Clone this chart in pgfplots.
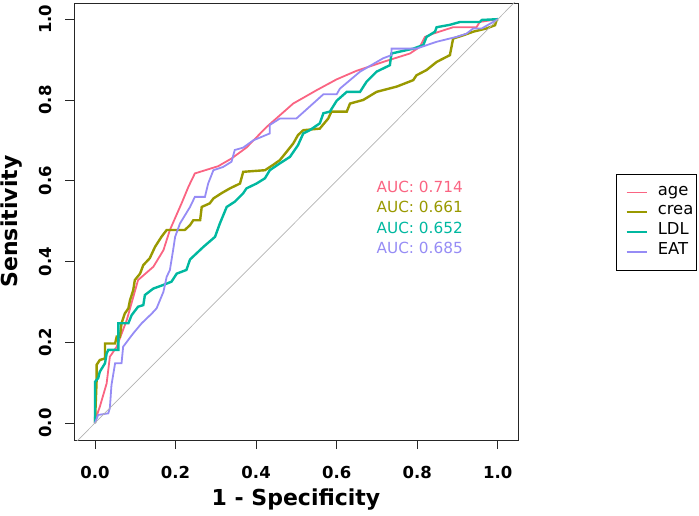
\documentclass[border=0pt]{standalone}
\usepackage{fontspec}
\setmainfont{DejaVu Sans}
\usepackage{pgfplots}
\pgfplotsset{compat=1.18}
\definecolor{cage}{RGB}{250,100,130}
\definecolor{ccrea}{RGB}{153,153,0}
\definecolor{cldl}{RGB}{0,184,160}
\definecolor{ceat}{RGB}{150,140,245}
\begin{document}
\begin{tikzpicture}
\path[use as bounding box] (0,0) rectangle (699pt,515pt);
\begin{axis}[
  at={(74pt,75pt)}, anchor=south west,
  scale only axis, width=444pt, height=437pt,
  xmin=-0.052, xmax=1.05, ymin=-0.042, ymax=1.04,
  xtick={0,0.2,0.4,0.6,0.8,1}, ytick={0,0.2,0.4,0.6,0.8,1},
  tick align=outside, major tick length=9pt,
  xtick pos=bottom, ytick pos=left,
  axis line style={black!85, line width=0.8pt},
  every tick/.style={black!85, line width=0.8pt},
  /pgf/number format/assume math mode=true,
  /pgf/number format/.cd, fixed, fixed zerofill, precision=1, /pgfplots/.cd,
  tick label style={font=\bfseries\fontsize{16.5}{16.5}\selectfont},
  xticklabel style={yshift=-14pt},
  yticklabel style={xshift=-9.5pt, rotate=90, anchor=south},
  xlabel={1 - Specificity}, ylabel={Sensitivity},
  label style={font=\bfseries\fontsize{22}{22}\selectfont},
  xlabel style={at={(axis description cs:0.5,-0.137)}, anchor=center},
  ylabel style={at={(axis description cs:-0.14,0.5)}, anchor=center, rotate=0},
  legend style={at={(1.221,0.609)}, anchor=north west, draw=black, line width=0.6pt,
    font=\fontsize{16.4}{19.7}\selectfont, inner xsep=3pt, inner ysep=8.5pt,
    row sep=0pt, column sep=4pt,
    nodes={inner sep=0pt, text height=12.5pt, text depth=7.2pt},
    legend cell align=left},
  legend image code/.code={\path (0pt,0pt); \draw[#1] (6pt,0pt) -- (26pt,0pt); \path (32pt,0pt);},
]
\addplot[cage, line width=1.8pt] coordinates {
(0,0) (0.005,0.02) (0.012,0.04) (0.029,0.098) (0.037,0.164) (0.054,0.189) (0.079,0.255)
(0.107,0.354) (0.145,0.387) (0.17,0.428) (0.186,0.478) (0.215,0.544) (0.232,0.585)
(0.248,0.618) (0.306,0.636) (0.339,0.655) (0.376,0.682) (0.426,0.733) (0.492,0.791)
(0.55,0.824) (0.60,0.851) (0.649,0.872) (0.715,0.894) (0.782,0.915) (0.806,0.931)
(0.819,0.956) (0.839,0.964) (0.889,0.98) (0.947,0.98) (0.955,0.993) (1,1)};
\addlegendentry{age}
\addplot[ccrea, line width=2.4pt] coordinates {
(0,0) (0.004,0.102) (0.004,0.144) (0.012,0.156) (0.025,0.16) (0.025,0.197) (0.05,0.197)
(0.054,0.214) (0.062,0.214) (0.066,0.247) (0.074,0.271) (0.083,0.284) (0.087,0.304)
(0.095,0.329) (0.099,0.354) (0.112,0.37) (0.12,0.391) (0.136,0.408) (0.149,0.436)
(0.165,0.461) (0.178,0.478) (0.223,0.478) (0.236,0.49) (0.244,0.502) (0.261,0.502)
(0.265,0.535) (0.285,0.544) (0.294,0.556) (0.314,0.569) (0.335,0.581) (0.36,0.593)
(0.368,0.622) (0.422,0.626) (0.442,0.639) (0.459,0.651) (0.476,0.672) (0.492,0.692)
(0.504,0.713) (0.517,0.725) (0.558,0.729) (0.579,0.754) (0.587,0.771) (0.625,0.771)
(0.633,0.791) (0.666,0.80) (0.699,0.82) (0.749,0.833) (0.79,0.849) (0.798,0.861)
(0.823,0.874) (0.848,0.894) (0.881,0.911) (0.889,0.952) (0.914,0.96) (0.939,0.969)
(0.972,0.977) (0.993,0.985) (0.997,0.998) (1,1)};
\addlegendentry{crea}
\addplot[cldl, line width=2.4pt] coordinates {
(0,0) (0,0.102) (0.008,0.111) (0.012,0.127) (0.025,0.148) (0.029,0.172) (0.033,0.181)
(0.058,0.181) (0.058,0.247) (0.083,0.247) (0.091,0.267) (0.107,0.288) (0.12,0.292)
(0.124,0.317) (0.145,0.333) (0.17,0.342) (0.19,0.35) (0.203,0.37) (0.227,0.379)
(0.236,0.405) (0.269,0.436) (0.298,0.461) (0.31,0.494) (0.327,0.535) (0.347,0.548)
(0.368,0.569) (0.376,0.581) (0.401,0.593) (0.422,0.606) (0.434,0.626) (0.459,0.643)
(0.484,0.659) (0.504,0.688) (0.517,0.717) (0.533,0.725) (0.558,0.742) (0.567,0.767)
(0.583,0.771) (0.60,0.798) (0.625,0.82) (0.658,0.82) (0.674,0.845) (0.699,0.87)
(0.732,0.886) (0.736,0.915) (0.79,0.927) (0.815,0.936) (0.823,0.956) (0.844,0.969)
(0.848,0.98) (0.881,0.986) (0.906,0.993) (0.955,0.993) (0.96,0.998) (1,1)};
\addlegendentry{LDL}
\addplot[ceat, line width=1.8pt] coordinates {
(0,0) (0.008,0.02) (0.033,0.024) (0.037,0.037) (0.041,0.094) (0.05,0.148) (0.066,0.148)
(0.07,0.189) (0.095,0.222) (0.116,0.247) (0.141,0.271) (0.153,0.284) (0.17,0.325)
(0.178,0.362) (0.186,0.379) (0.194,0.428) (0.199,0.461) (0.211,0.494) (0.236,0.535)
(0.248,0.56) (0.273,0.56) (0.281,0.593) (0.294,0.626) (0.318,0.634) (0.339,0.647)
(0.347,0.676) (0.368,0.682) (0.393,0.70) (0.434,0.717) (0.434,0.738) (0.459,0.754)
(0.50,0.754) (0.567,0.814) (0.60,0.814) (0.608,0.828) (0.658,0.87) (0.715,0.903)
(0.736,0.911) (0.736,0.927) (0.798,0.927) (0.848,0.944) (0.897,0.956) (0.922,0.964)
(0.939,0.977) (0.96,0.977) (0.997,0.998) (1,1)};
\addlegendentry{EAT}
\addplot[black!30, line width=0.7pt, forget plot] coordinates {(-0.1,-0.1) (1.1,1.1)};
\node[text=cage, font=\fontsize{15.3}{15}\selectfont] at (axis cs:0.806,0.584) {AUC: 0.714};
\node[text=ccrea, font=\fontsize{15.3}{15}\selectfont] at (axis cs:0.806,0.535) {AUC: 0.661};
\node[text=cldl, font=\fontsize{15.3}{15}\selectfont] at (axis cs:0.806,0.483) {AUC: 0.652};
\node[text=ceat, font=\fontsize{15.3}{15}\selectfont] at (axis cs:0.806,0.433) {AUC: 0.685};
\end{axis}
\end{tikzpicture}
\end{document}
